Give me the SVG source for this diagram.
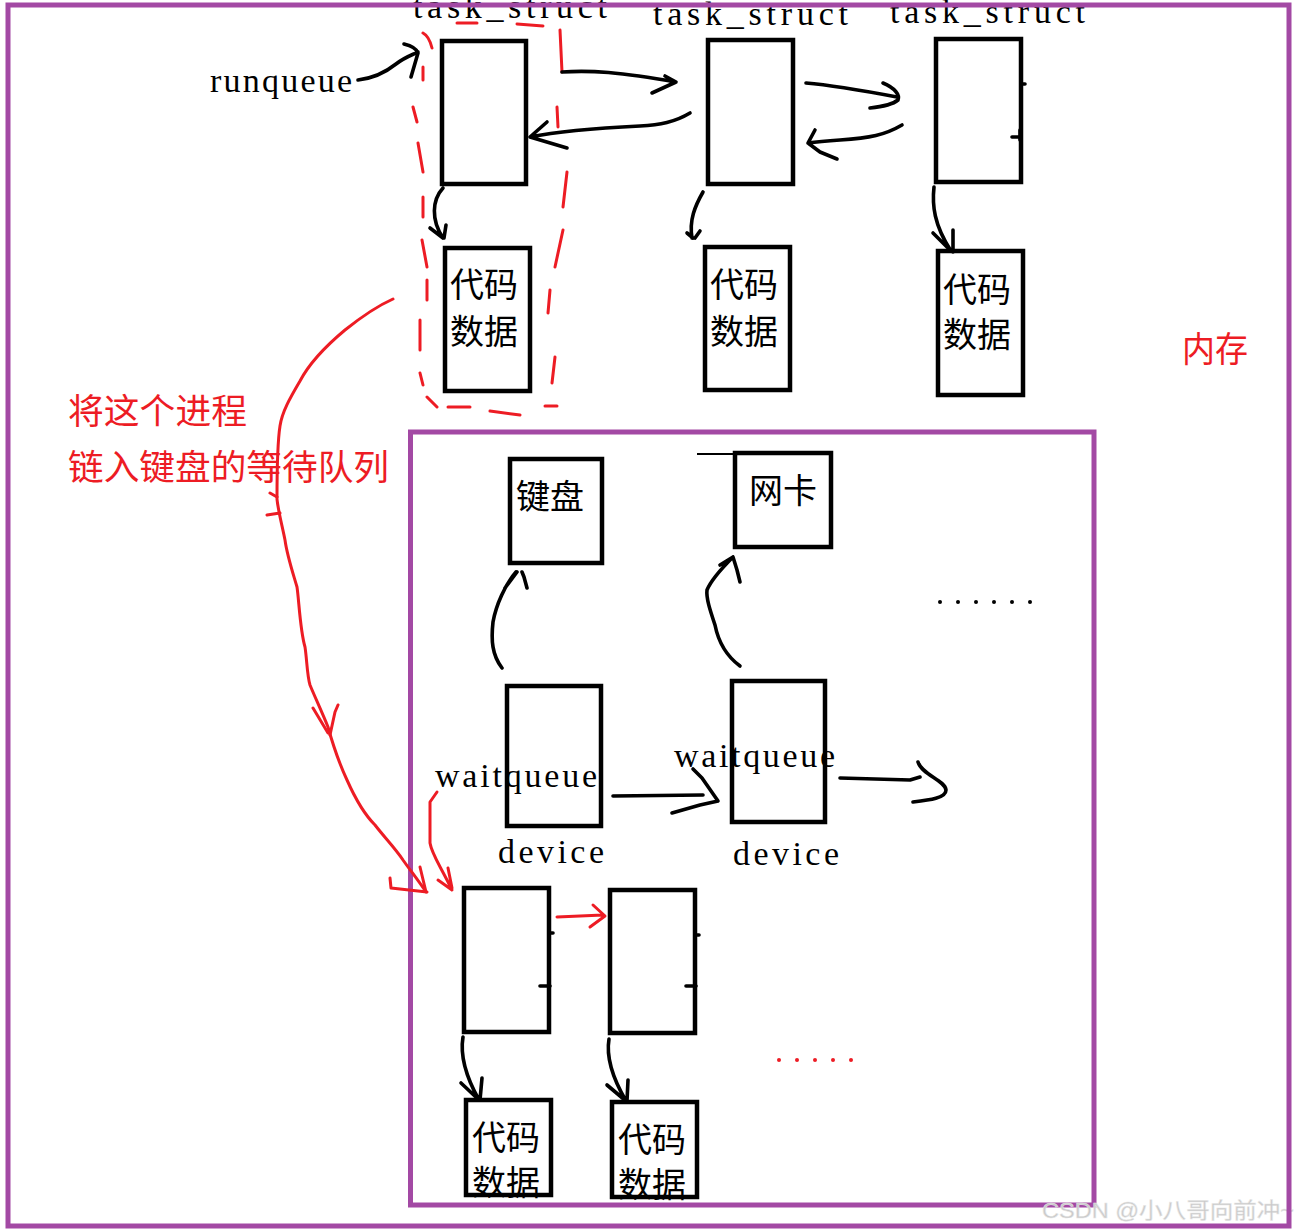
<svg xmlns="http://www.w3.org/2000/svg" width="1299" height="1231" viewBox="0 0 1299 1231">
<style>
.frame{fill:none;stroke:#A349A4;stroke-width:5}
.box{fill:none;stroke:#000;stroke-width:4.5}
.ink{fill:none;stroke:#000;stroke-width:3.6;stroke-linecap:round;stroke-linejoin:round}
.red{fill:none;stroke:#ED1C24;stroke-width:3;stroke-linecap:round;stroke-linejoin:round}
.lat{font-family:"Liberation Serif","DejaVu Serif",serif;font-size:34px;fill:#000}
.cjk{font-family:"Noto Sans CJK SC",sans-serif;font-size:34px;fill:#000}
.rtxt{font-family:"Noto Sans CJK SC",sans-serif;font-size:35px;fill:#ED1C24}
.dot{fill:#000}
.rdot{fill:#ED1C24}
</style>
<rect width="1299" height="1231" fill="#fff"/>
<g id="device-area">
<rect class="frame" x="410.5" y="432" width="683.5" height="773"/>
</g>
<g id="runqueue-label"><text class="lat" x="210" y="92" textLength="142" lengthAdjust="spacing">runqueue</text></g>
<g id="note"><text class="rtxt" x="68" y="424" textLength="179" lengthAdjust="spacingAndGlyphs">将这个进程</text>
<text class="rtxt" x="68" y="480" textLength="321" lengthAdjust="spacingAndGlyphs">链入键盘的等待队列</text></g>
<g id="task1">
<text class="lat" x="413" y="18" textLength="194" lengthAdjust="spacing">task_struct</text>
<rect class="box" x="442" y="41" width="84" height="143"/>
</g>
<g id="code1">
<text class="cjk" x="450" y="297">代码</text><text class="cjk" x="450" y="344">数据</text>
<rect class="box" x="445" y="248" width="85" height="143"/>
</g>
<g id="task2">
<text class="lat" x="653" y="25" textLength="195" lengthAdjust="spacing">task_struct</text>
<rect class="box" x="708" y="40" width="85" height="144"/>
</g>
<g id="code2">
<text class="cjk" x="710" y="297">代码</text><text class="cjk" x="710" y="344">数据</text>
<rect class="box" x="705" y="247" width="85" height="143"/>
</g>
<g id="task3">
<text class="lat" x="890" y="23" textLength="195" lengthAdjust="spacing">task_struct</text>
<rect class="box" x="936" y="39" width="85" height="143"/>
<path class="ink" d="M1022 84 L1025 84 M1012 137 L1021 137 M1020 130 L1020 140"/>
</g>
<g id="code3">
<text class="cjk" x="943" y="302">代码</text><text class="cjk" x="943" y="347">数据</text>
<rect class="box" x="938" y="251" width="85" height="144"/>
</g>
<g id="keyboard">
<text class="cjk" x="516" y="509">键盘</text>
<rect class="box" x="510" y="459" width="92" height="104"/>
</g>
<g id="nic">
<text class="cjk" x="749" y="503">网卡</text>
<rect class="box" x="735" y="453" width="96" height="94"/>
<path d="M697 454 L798 454" stroke="#000" stroke-width="2"/>
</g>
<g id="device1">
<rect class="box" x="507" y="686" width="94" height="140"/>
<text class="lat" x="435" y="787" textLength="162" lengthAdjust="spacing">waitqueue</text>
<text class="lat" x="498" y="863" textLength="106" lengthAdjust="spacing">device</text>
</g>
<g id="device2">
<rect class="box" x="732" y="681" width="93" height="141"/>
<text class="lat" x="674" y="767" textLength="161" lengthAdjust="spacing">waitqueue</text>
<text class="lat" x="733" y="865" textLength="106" lengthAdjust="spacing">device</text>
</g>
<g id="waitA">
<rect class="box" x="464" y="888" width="85" height="144"/>
<path class="ink" d="M550 933 L553 933 M540 986 L550 986 M549 980 L549 990"/>
</g>
<g id="codeA">
<text class="cjk" x="472" y="1150">代码</text><text class="cjk" x="472" y="1195">数据</text>
<rect class="box" x="466" y="1100" width="85" height="95"/>
</g>
<g id="waitB">
<rect class="box" x="610" y="890" width="85" height="143"/>
<path class="ink" d="M696 935 L699 935 M686 986 L696 986 M695 980 L695 990"/>
</g>
<g id="codeB">
<text class="cjk" x="618" y="1152">代码</text><text class="cjk" x="618" y="1197">数据</text>
<rect class="box" x="612" y="1102" width="85" height="95"/>
</g>
<g id="more-devices">
<circle class="dot" cx="940" cy="602" r="2"/><circle class="dot" cx="958" cy="602" r="2"/><circle class="dot" cx="976" cy="602" r="2"/><circle class="dot" cx="994" cy="602" r="2"/><circle class="dot" cx="1012" cy="602" r="2"/><circle class="dot" cx="1030" cy="602" r="2"/>
</g>
<g id="more-waiting">
<circle class="rdot" cx="779" cy="1060" r="2"/><circle class="rdot" cx="797" cy="1060" r="2"/><circle class="rdot" cx="815" cy="1060" r="2"/><circle class="rdot" cx="833" cy="1060" r="2"/><circle class="rdot" cx="851" cy="1060" r="2"/>
</g>
<g id="connectors">
<path class="red" d="M432 48 Q429 36 423 33 M423 67 L423 80 M413 107 L417 122 M418 143 L423 172 M423 197 L423 217 M422 240 L427 267 M427 280 L427 300 M420 320 L420 350 M420 373 L423 385 M427 397 L437 407 M448 407 L470 407 M490 411 L520 415 M545 406 L557 406"/>
<path class="red" d="M457 23 L477 23 M517 24 L543 26 M560 30 L562 72 M557 107 L558 127 M567 172 L563 207 M563 230 L555 267 M550 290 L548 313 M555 357 L552 383"/>
<path class="ink" d="M358 80 C375 78 386 72 396 64 C405 57 412 55 418 52 M404 44 Q416 47 418 53 L411 77"/>
<path class="ink" d="M562 72 C590 70 620 72 676 82 M665 76 L676 82 L652 93"/>
<path class="ink" d="M690 113 C675 122 660 125 640 126 C600 128 560 131 530 137 M547 122 L530 137 L567 148"/>
<path class="ink" d="M806 83 C830 85 860 90 897 97 M883 83 C895 88 900 95 898 100 C892 105 880 107 870 108"/>
<path class="ink" d="M902 125 C885 135 870 138 840 140 C825 141 815 142 808 143 M815 130 L808 143 L820 152 L837 159"/>
<path class="ink" d="M443 188 C432 200 431 220 443 238 M430 228 L443 238 M446 225 L444 238"/>
<path class="ink" d="M703 192 C695 206 689 220 692 238 M687 233 L693 238 M700 231 L695 238"/>
<path class="ink" d="M934 187 C932 205 934 225 951 251 M933 233 L950 250 M953 230 L953 252"/>
<path class="ink" d="M502 668 C492 655 491 640 493 622 C496 605 505 585 516 572 M505 588 L517 572 M522 572 L524 577 L527 588"/>
<path class="ink" d="M740 666 C725 655 718 640 715 625 C710 610 706 598 707 590 C712 578 725 565 733 557 M720 565 L733 557 M733 557 L737 570 L740 582"/>
<path class="ink" d="M613 796 L703 795 M693 769 L702 778 L718 801 L700 805 L672 813"/>
<path class="ink" d="M840 778 L910 780 L920 777 M918 762 C922 775 945 780 946 790 C946 798 930 800 913 802"/>
<path class="ink" d="M463 1037 C460 1055 465 1075 479 1100 M461 1083 L479 1100 M482 1078 L480 1100"/>
<path class="ink" d="M609 1039 C606 1057 612 1077 626 1101 M607 1085 L626 1101 M628 1080 L627 1101"/>
<path class="red" d="M557 917 L603 915 M593 905 L605 916 L590 927"/>
<path class="red" d="M393 299 C375 307 360 318 345 330 C327 345 310 362 300 381 C290 398 282 412 280 426 C277 445 277 475 277 499 C278 510 282 525 285 540 C287 555 292 570 297 587 C299 600 300 630 305 647 C307 660 307 675 310 685 C314 695 322 712 328 727 C333 745 340 765 347 780 C355 798 365 815 375 825 C385 838 395 848 403 860 C410 870 418 880 426 892"/>
<path class="red" d="M270 493 L277 497 M267 515 L280 513 M313 708 L328 733 M338 705 L335 712 L330 735"/>
<path class="red" d="M420 867 L426 892 M390 878 L391 888 L427 892"/>
<path class="red" d="M437 792 L430 802 L430 843 C432 855 440 865 452 890 M438 880 L452 890 M448 868 L452 888"/>
</g>
<g id="watermark">
<text x="1042" y="1218" font-family="Liberation Sans,Noto Sans CJK SC,sans-serif" font-size="22" fill="#c8c8c8" stroke="#e8e8e8" stroke-width="0.5" textLength="252" lengthAdjust="spacingAndGlyphs">CSDN @小八哥向前冲~</text>
</g>
<g id="memory">
<rect class="frame" x="8" y="5" width="1281" height="1221"/>
<text class="rtxt" x="1182" y="362" textLength="66" lengthAdjust="spacingAndGlyphs">内存</text>
</g>
</svg>
